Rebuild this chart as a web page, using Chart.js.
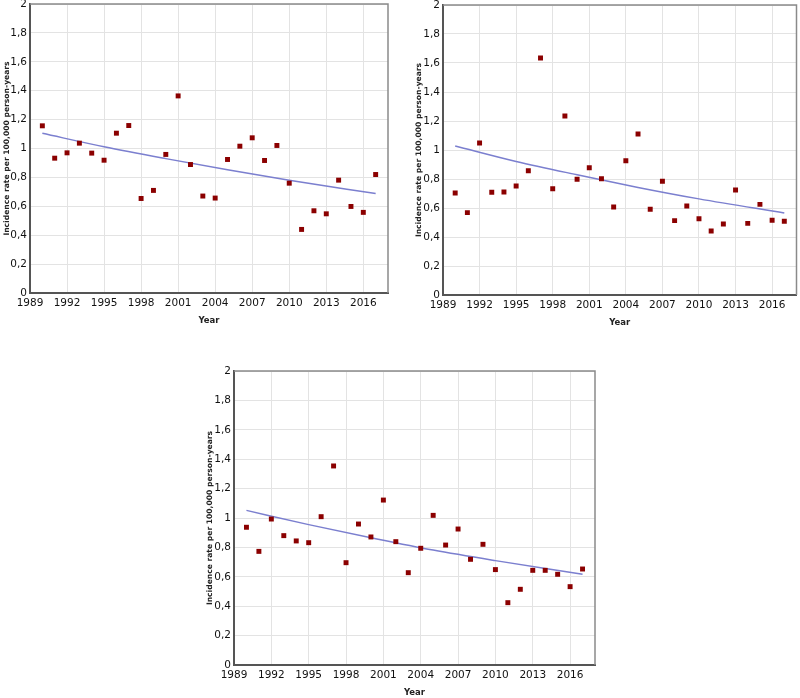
<!DOCTYPE html>
<html><head><meta charset="utf-8">
<script src="https://cdn.jsdelivr.net/npm/chart.js@4.4.1/dist/chart.umd.min.js"></script>
<style>
html,body{margin:0;padding:0;background:#fff;width:800px;height:698px;overflow:hidden;position:relative}
.p{position:absolute}
canvas{display:block}
</style></head><body>
<div class="p" style="left:0;top:0;width:400px;height:340px"><canvas id="c1" width="400" height="340"></canvas></div>
<div class="p" style="left:400px;top:0;width:400px;height:340px"><canvas id="c2" width="400" height="340"></canvas></div>
<div class="p" style="left:190px;top:360px;width:420px;height:340px"><canvas id="c3" width="420" height="340"></canvas></div>
<script>
const years = [1990,1991,1992,1993,1994,1995,1996,1997,1998,1999,2000,2001,2002,2003,2004,2005,2006,2007,2008,2009,2010,2011,2012,2013,2014,2015,2016,2017];
const rateA = [1.157,0.933,0.970,1.037,0.968,0.919,1.106,1.159,0.654,0.710,0.959,1.364,0.889,0.671,0.657,0.924,1.016,1.074,0.917,1.021,0.760,0.440,0.569,0.548,0.781,0.599,0.558,0.820];
const rateB = [0.703,0.568,1.048,0.708,0.710,0.752,0.857,1.634,0.733,1.234,0.798,0.878,0.802,0.607,0.926,1.110,0.591,0.784,0.513,0.614,0.526,0.441,0.490,0.724,0.494,0.625,0.515,0.508];
const rateC = [0.937,0.773,0.993,0.880,0.844,0.832,1.009,1.354,0.696,0.959,0.871,1.122,0.839,0.628,0.794,1.018,0.816,0.925,0.719,0.821,0.649,0.424,0.515,0.644,0.644,0.617,0.533,0.653];
const trendYears = [1990,1995,2000,2005,2010,2017];
const trendA = [1.105,1.012,0.930,0.853,0.780,0.688];
const trendB = [1.028,0.921,0.829,0.742,0.663,0.566];
const trendC = [1.052,0.955,0.866,0.782,0.710,0.617];
const xTicks = [1989,1992,1995,1998,2001,2004,2007,2010,2013,2016];
const yTicks = [0,0.2,0.4,0.6,0.8,1,1.2,1.4,1.6,1.8,2];
const yTitle = 'Incidence rate per 100,000 person-years';
const xTitle = 'Year';

const frame = {
  id: 'frame',
  afterDraw(chart) {
    const {ctx, chartArea: a} = chart;
    ctx.save();
    ctx.strokeStyle = '#8a8a8a';
    ctx.lineWidth = 1.5;
    ctx.beginPath();
    ctx.moveTo(a.left, a.top);
    ctx.lineTo(a.right, a.top);
    ctx.lineTo(a.right, a.bottom);
    ctx.stroke();
    ctx.restore();
  }
};

function noPad(s) { s.paddingTop = 0; s.paddingBottom = 0; s.paddingLeft = 0; s.paddingRight = 0; }

function makeChart(id, rates, trend, g) {
  const pts = years.map((y, i) => ({x: y, y: rates[i]}));
  const tr = trendYears.map((y, i) => ({x: y, y: trend[i]}));
  new Chart(document.getElementById(id), {
    type: 'scatter',
    data: {
      datasets: [
        {data: pts, pointStyle: 'rect', pointRadius: 3.5, pointHoverRadius: 3.5,
         backgroundColor: '#8b0000', borderColor: '#8b0000', borderWidth: 0},
        {type: 'line', data: tr, showLine: true, borderColor: '#7b7fcf', borderWidth: 1.5,
         pointRadius: 0, fill: false, tension: 0.4, cubicInterpolationMode: 'monotone'}
      ]
    },
    options: {
      responsive: false,
      animation: false,
      devicePixelRatio: 1,
      layout: {padding: g.pad},
      plugins: {legend: {display: false}, tooltip: {enabled: false}},
      scales: {
        x: {
          type: 'linear', min: 1989, max: 2018,
          afterBuildTicks: s => { s.ticks = xTicks.map(v => ({value: v})); },
          afterFit: s => { s.height = g.xh; noPad(s); },
          grid: {color: '#e3e3e3', lineWidth: 1, drawTicks: false},
          border: {display: true, color: '#555', width: 2},
          ticks: {color: '#111', font: {family: 'DejaVu Sans', size: 10.5}, padding: 4,
                  maxRotation: 0, autoSkip: false, callback: v => String(v)},
          title: {display: true, text: xTitle, color: '#222',
                  font: {family: 'DejaVu Sans', size: 8.5, weight: 'bold'},
                  padding: {top: 0, bottom: g.xtp}}
        },
        y: {
          type: 'linear', min: 0, max: 2,
          afterBuildTicks: s => { s.ticks = yTicks.map(v => ({value: v})); },
          afterFit: s => { s.width = g.yw; noPad(s); },
          grid: {color: '#e3e3e3', lineWidth: 1, drawTicks: false},
          border: {display: true, color: '#555', width: 2},
          ticks: {color: '#111', font: {family: 'DejaVu Sans', size: 10.5}, padding: 3,
                  callback: v => String(Number(v.toFixed(1))).replace('.', ',')},
          title: {display: true, text: yTitle, color: '#222',
                  font: {family: 'DejaVu Sans', size: 7.6, weight: 'bold'},
                  padding: {top: g.ytp, bottom: 0}}
        }
      }
    },
    plugins: [frame]
  });
}

makeChart('c1', rateA, trendA, {pad: {left: 0, top: 4, right: 12, bottom: 0}, yw: 30, xh: 47, ytp: 2.5, xtp: 14});
makeChart('c2', rateB, trendB, {pad: {left: 11, top: 5, right: 2, bottom: 0}, yw: 32, xh: 45, ytp: 3, xtp: 12});
makeChart('c3', rateC, trendC, {pad: {left: 13, top: 11, right: 15, bottom: 0}, yw: 31, xh: 35, ytp: 2.5, xtp: 2});
</script>
</body></html>
